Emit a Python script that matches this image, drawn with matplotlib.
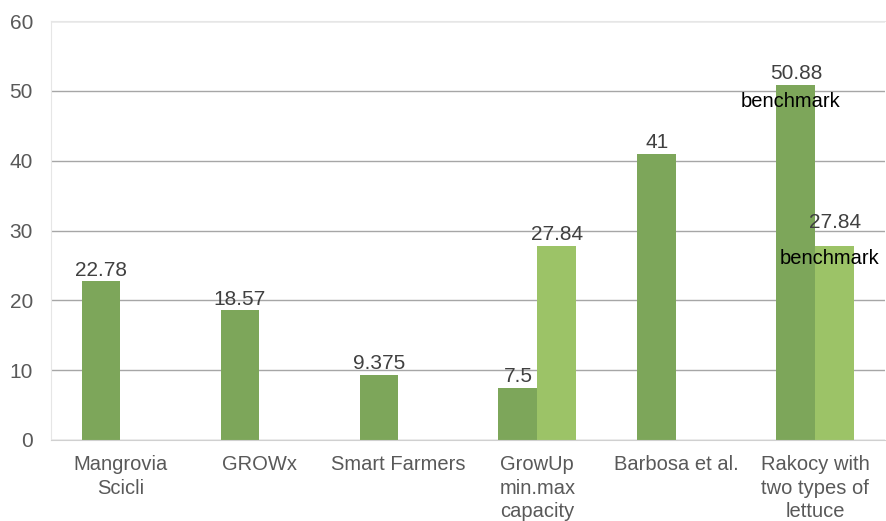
import numpy as np
import matplotlib.pyplot as plt

plt.rcParams['font.family'] = ['Liberation Sans', 'DejaVu Sans']

categorias = ["Mangrovia\nScicli", "GROWx", "Smart Farmers",
              "GrowUp\nmin.max\ncapacity", "Barbosa et al.",
              "Rakocy with\ntwo types of\nlettuce"]
serie_1 = [22.78, 18.57, 9.375, 7.5, 41, 50.88]
serie_2 = [np.nan, np.nan, np.nan, 27.84, np.nan, 27.84]
rotulos_1 = ["22.78", "18.57", "9.375", "7.5", "41", "50.88"]
rotulos_2 = ["", "", "", "27.84", "", "27.84"]
benchmark_1 = [False, False, False, False, False, True]
benchmark_2 = [False, False, False, False, False, True]

cor_escura = "#7da65a"
cor_clara = "#9cc367"
cinza_txt = "#404040"

fig = plt.figure(figsize=(8.87, 5.21), dpi=100)
ax = fig.add_axes([0.0575, 0.1555, 0.94, 0.804])

x = np.arange(len(categorias))
w = 0.28

ax.bar(x - w / 2, serie_1, w, color=cor_escura, zorder=3)
ax.bar(x + w / 2, serie_2, w, color=cor_clara, zorder=3)

for i, v in enumerate(serie_1):
    ax.annotate(rotulos_1[i], (x[i] - w / 2, v), textcoords="offset points",
                xytext=(0, 1), ha="center", va="bottom", fontsize=15, color=cinza_txt)
    if benchmark_1[i]:
        ax.annotate("benchmark", (x[i] - w / 2, v), textcoords="offset points",
                    xytext=(-4, -12), ha="center", va="center", fontsize=14.5, color="black", zorder=5)

for i, v in enumerate(serie_2):
    if np.isnan(v):
        continue
    dy = 10 if benchmark_2[i] else 1
    ax.annotate(rotulos_2[i], (x[i] + w / 2, v), textcoords="offset points",
                xytext=(0, dy), ha="center", va="bottom", fontsize=15, color=cinza_txt)
    if benchmark_2[i]:
        ax.annotate("benchmark", (x[i] + w / 2, v), textcoords="offset points",
                    xytext=(-4, -9), ha="center", va="center", fontsize=14.5, color="black", zorder=5)

ax.set_xlim(-0.5, len(categorias) - 0.5)
ax.set_ylim(0, 60)
ax.set_yticks(range(0, 61, 10))
ax.set_xticks(x)
ax.set_xticklabels(categorias, fontsize=14.5, color="#595959", linespacing=1.3)
ax.tick_params(axis="y", labelsize=15, labelcolor="#595959", length=0, pad=13)
ax.tick_params(axis="x", length=0, pad=11)

ax.grid(axis="y", color="#a6a6a6", linewidth=1, zorder=0)
for lado in ["top", "left", "right"]:
    ax.spines[lado].set_color("#e6e6e6")
ax.spines["right"].set_visible(False)
ax.spines["bottom"].set_color("#d0d0d0")
ax.spines["bottom"].set_zorder(4)

plt.savefig("out.png", dpi=100)
plt.close()
